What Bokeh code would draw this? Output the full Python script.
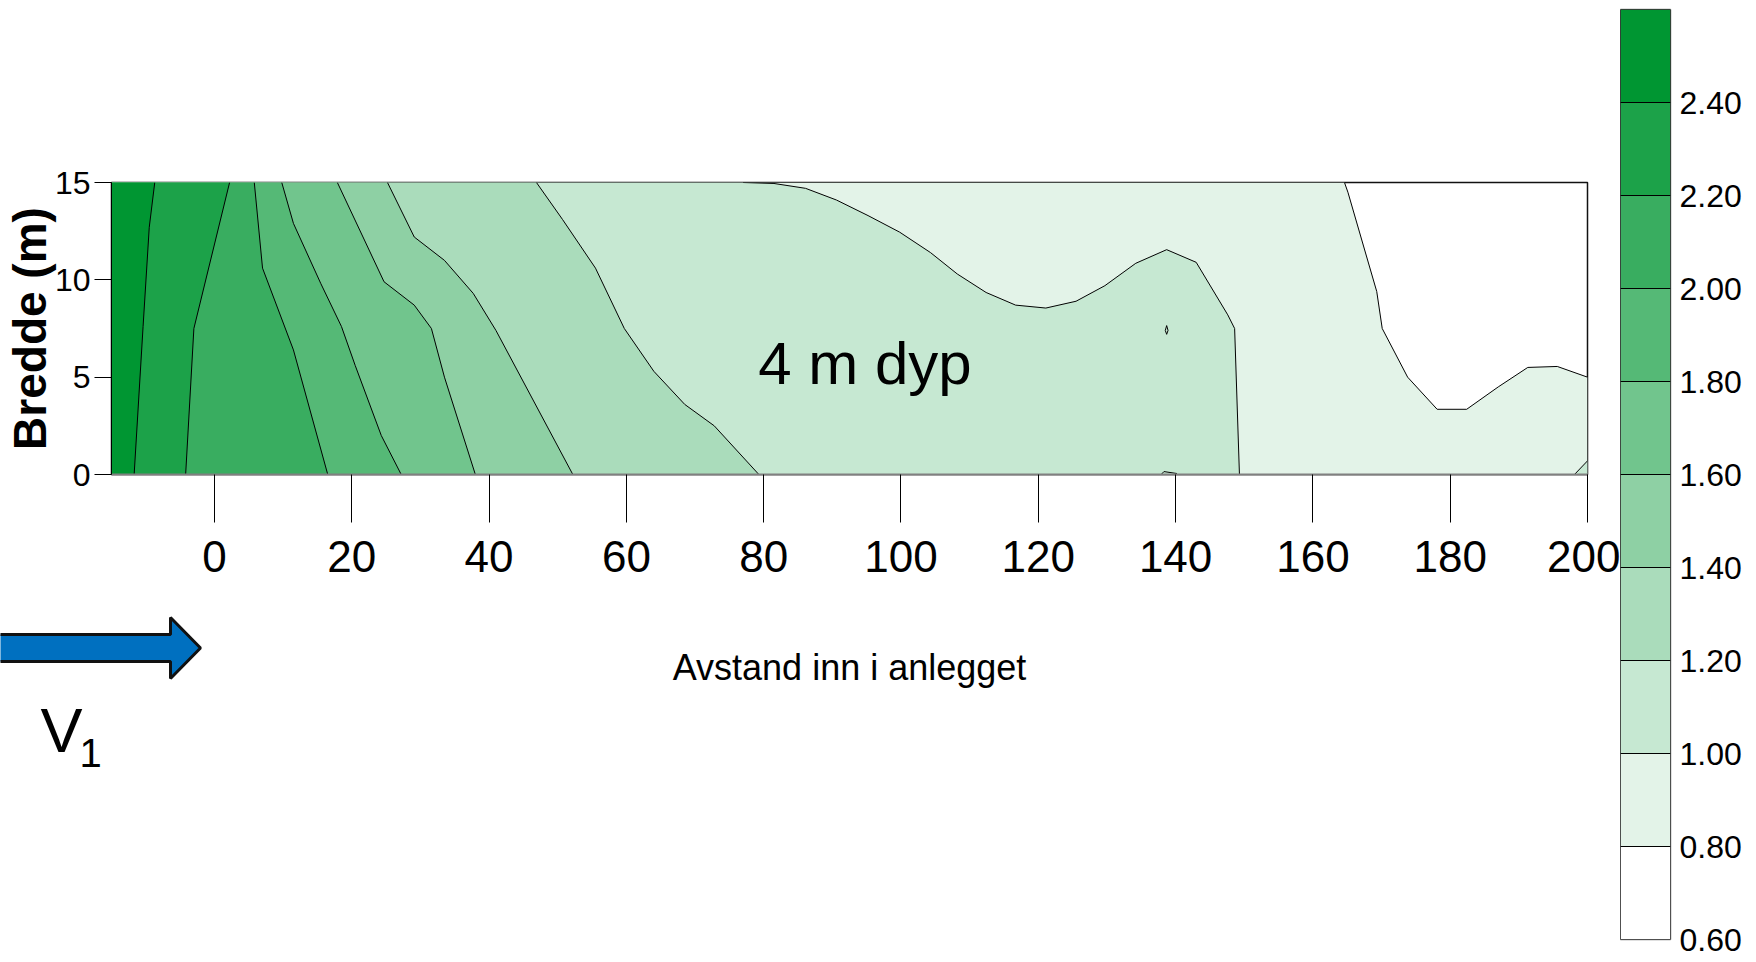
import math
from bokeh.plotting import figure
from bokeh.layouts import row, column
from bokeh.models import (Range1d, FixedTicker, LinearAxis, PrintfTickFormatter,
                          Label, ColumnDataSource)
from bokeh.core.properties import value
from bokeh.embed import file_html
from bokeh.resources import INLINE

# ---------------- data ----------------
levels = [0.6, 0.8, 1.0, 1.2, 1.4, 1.6, 1.8, 2.0, 2.2, 2.4, 2.6]
band_colors = ["#FFFFFF", "#E3F3E8", "#C6E8D2", "#AADCBB", "#8ED0A4",
               "#71C58D", "#55B976", "#39AD60", "#1CA249", "#009632"]
colorbar_ticks = [0.6, 0.8, 1.0, 1.2, 1.4, 1.6, 1.8, 2.0, 2.2, 2.4]
x_ticks = [0, 20, 40, 60, 80, 100, 120, 140, 160, 180, 200]
y_ticks = [0, 5, 10, 15]

# contour lines (distance x, width y), from top edge to bottom / right edge
c080_x = [164.6, 165.1, 169.3, 170.1, 173.8, 178.1, 182.4, 187.0, 191.3, 195.6, 200.0]
c080_y = [15.0, 14.5, 9.4, 7.5, 5.0, 3.35, 3.35, 4.5, 5.5, 5.55, 5.0]
c100_x = [77.0, 81.5, 86.1, 90.6, 95.2, 99.8, 104.3, 108.2, 112.4, 116.7, 121.1,
          125.5, 129.7, 134.2, 138.7, 143.0, 147.6, 148.6, 149.3]
c100_y = [15.0, 14.95, 14.7, 14.1, 13.3, 12.45, 11.4, 10.3, 9.35, 8.7, 8.55,
          8.9, 9.7, 10.85, 11.55, 10.9, 8.2, 7.5, 0.0]
c100_corner_x = [198.1, 200.0]
c100_corner_y = [0.0, 0.7]
c120_x = [46.9, 50.7, 55.5, 59.7, 64.0, 68.5, 72.8, 79.3]
c120_y = [15.0, 13.1, 10.6, 7.5, 5.3, 3.6, 2.5, 0.0]
c140_x = [25.2, 29.1, 33.5, 37.7, 41.0, 52.2]
c140_y = [15.0, 12.2, 11.0, 9.3, 7.4, 0.0]
c160_x = [17.9, 24.7, 29.1, 31.6, 33.5, 38.0]
c160_y = [15.0, 9.9, 8.7, 7.5, 5.0, 0.0]
c180_x = [9.8, 11.5, 15.5, 18.5, 20.5, 24.3, 27.2]
c180_y = [15.0, 12.9, 9.8, 7.6, 5.6, 2.0, 0.0]
c200_x = [5.8, 7.0, 11.5, 16.5]
c200_y = [15.0, 10.6, 6.4, 0.0]
c220_x = [2.2, -3.0, -4.2]
c220_y = [15.0, 7.5, 0.0]
c240_x = [-8.7, -9.5, -10.4, -11.7]
c240_y = [15.0, 12.7, 7.6, 0.0]
# two tiny closed contours near x = 139
island_x = [138.5, 138.7, 138.9, 138.7, 138.5]
island_y = [7.4, 7.65, 7.4, 7.2, 7.4]
bump_x = [137.9, 138.3, 140.2]
bump_y = [0.0, 0.15, 0.05]

X_MIN, X_MAX, Y_MIN, Y_MAX = -15, 200, 0, 15

contours = [(0.8, c080_x, c080_y), (1.0, c100_x, c100_y), (1.2, c120_x, c120_y),
            (1.4, c140_x, c140_y), (1.6, c160_x, c160_y), (1.8, c180_x, c180_y),
            (2.0, c200_x, c200_y), (2.2, c220_x, c220_y), (2.4, c240_x, c240_y)]

# ---------------- geometry (page pixels) ----------------
W1, H1, H2 = 1620, 600, 346
FL, FT, FW, FH = 111, 182, 1476, 292

p = figure(width=W1, height=H1, x_range=Range1d(X_MIN, X_MAX), y_range=Range1d(Y_MIN, Y_MAX),
           output_backend="svg", toolbar_location=None,
           min_border_left=FL, min_border_top=FT,
           min_border_right=W1 - FL - FW, min_border_bottom=H1 - FT - FH)
p.frame_align = False
p.xgrid.visible = False
p.ygrid.visible = False
p.outline_line_color = "#111111"
p.outline_line_width = 1.5
p.background_fill_color = band_colors[0]

# filled regions: area with value >= level lies left of each contour
reg_xs, reg_ys, reg_c = [], [], []
for lvl, xs, ys in contours:
    px_ = list(xs)
    py_ = list(ys)
    if px_[-1] >= X_MAX:
        px_.append(X_MAX)
        py_.append(Y_MIN)
    px_ += [X_MIN, X_MIN]
    py_ += [Y_MIN, Y_MAX]
    reg_xs.append(px_)
    reg_ys.append(py_)
    reg_c.append(band_colors[levels.index(lvl)])
    if lvl == 1.0:
        reg_xs.append(c100_corner_x + [X_MAX])
        reg_ys.append(c100_corner_y + [Y_MIN])
        reg_c.append(band_colors[levels.index(lvl)])

p.patches(xs="xs", ys="ys", fill_color="c", line_color=None,
          source=ColumnDataSource(dict(xs=reg_xs, ys=reg_ys, c=reg_c)))

line_xs = [c[1] for c in contours] + [c100_corner_x, island_x, bump_x]
line_ys = [c[2] for c in contours] + [c100_corner_y, island_y, bump_y]
p.multi_line(xs=line_xs, ys=line_ys, line_color="black", line_width=1)

FONT = "Liberation Sans"

xa = p.xaxis[0]
xa.ticker = FixedTicker(ticks=x_ticks)
xa.major_tick_out = 48
xa.major_tick_in = 0
xa.minor_tick_line_color = None
xa.major_tick_line_color = "black"
xa.axis_line_color = "#808080"
xa.axis_line_width = 2
xa.major_label_standoff = 18
xa.major_label_text_font = FONT
xa.major_label_text_font_size = "44px"
xa.major_label_text_color = "black"

ya = p.yaxis[0]
ya.ticker = FixedTicker(ticks=y_ticks)
ya.major_tick_out = 17
ya.major_tick_in = 0
ya.minor_tick_line_color = None
ya.major_tick_line_color = "black"
ya.axis_line_color = "black"
ya.major_label_standoff = 4
ya.major_label_text_font = FONT
ya.major_label_text_font_size = "32px"
ya.major_label_text_color = "black"
ya.axis_label = "Bredde (m)"
ya.axis_label_text_font = FONT
ya.axis_label_text_font_style = "bold"
ya.axis_label_text_font_size = "46px"
ya.axis_label_text_color = "black"
ya.axis_label_standoff = -4

# in-plot annotation
p.add_layout(Label(x=79.2, y=5.68, text="4 m dyp", text_align="left",
                   text_baseline="alphabetic", text_font=FONT,
                   text_font_size="60px", text_color="black"))

# ---------------- lower strip: axis title, flow arrow, V1 ----------------
s = figure(width=W1, height=H2, x_range=Range1d(0, W1), y_range=Range1d(H1 + H2, H1),
           output_backend="svg", toolbar_location=None,
           x_axis_location=None, y_axis_location=None,
           min_border_left=0, min_border_right=0, min_border_top=0, min_border_bottom=0)
s.frame_align = False
s.xgrid.visible = False
s.ygrid.visible = False
s.outline_line_color = None

x_title = "Avstand inn i anlegget"
s.text(x=[FL + FW / 2], y=[667], text=[x_title], text_align="center",
       text_baseline="alphabetic", text_font=value(FONT), text_font_size="36px",
       text_color="black")

arrow_x = [-10, 170, 170, 200, 170, 170, -10]
arrow_y = [634, 634, 617, 647.5, 678, 661, 661]
s.patch(x=arrow_x, y=arrow_y, fill_color="#0070C0", line_color="#111111", line_width=3)

s.text(x=[40], y=[729], text=["V"], text_align="left", text_baseline="alphabetic",
       text_font=value(FONT), text_font_size="63px", text_color="black")
s.text(x=[79], y=[752], text=["1"], text_align="left", text_baseline="alphabetic",
       text_font=value(FONT), text_font_size="40px", text_color="black")

# ---------------- colour bar ----------------
W2, H3 = 128, 960
cb = figure(width=W2, height=H3, x_range=Range1d(0, 1),
            y_range=Range1d(levels[0], levels[-1]),
            output_backend="svg", toolbar_location=None,
            x_axis_location=None, y_axis_location=None,
            min_border_left=0, min_border_right=W2 - 50, min_border_top=9,
            min_border_bottom=H3 - 939)
cb.frame_align = False
cb.xgrid.visible = False
cb.ygrid.visible = False
cb.outline_line_color = "#808080"
cb.outline_line_width = 1.5
cb.quad(left=0, right=1, bottom=levels[:-1], top=levels[1:], fill_color=band_colors,
        line_color="black", line_width=1)
cax = LinearAxis(ticker=FixedTicker(ticks=colorbar_ticks),
                 formatter=PrintfTickFormatter(format="%.2f"),
                 major_tick_line_color=None, minor_tick_line_color=None,
                 axis_line_color=None, major_label_standoff=3,
                 major_label_text_font=FONT,
                 major_label_text_font_size="32px", major_label_text_color="black")
cb.add_layout(cax, "right")

layout = row(column(p, s, spacing=0), cb, spacing=0)
open("out.html", "w").write(file_html(layout, INLINE))
